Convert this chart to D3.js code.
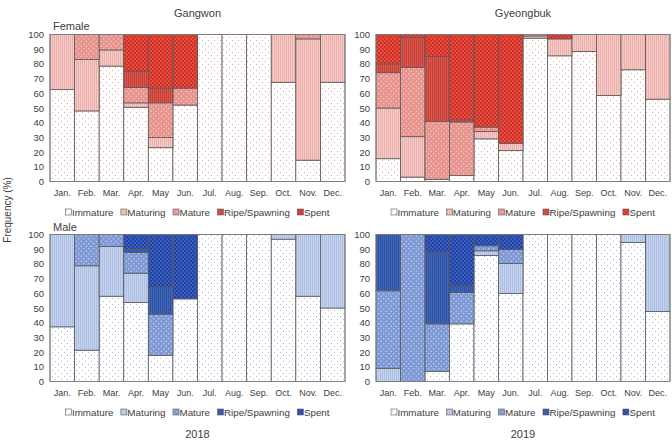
<!DOCTYPE html>
<html>
<head>
<meta charset="utf-8">
<script src="https://cdn.jsdelivr.net/npm/d3@7"></script>
<style>
  body { margin: 0; background: #fff; }
  text { font-family: "Liberation Sans", Arial, sans-serif; fill: #404040; }
</style>
</head>
<body>
<div class="chart_container"></div>
<script>
// months and maturity stages
var months = ["Jan.", "Feb.", "Mar.", "Apr.", "May", "Jun.", "Jul.", "Aug.", "Sep.", "Oct.", "Nov.", "Dec."];
var stages = ["Immature", "Maturing", "Mature", "Ripe/Spawning", "Spent"];

// % per month, one row per stage (Immature, Maturing, Mature, Ripe/Spawning, Spent)
var femaleGangwon = [
    [62.5, 48, 78.5, 50.5, 23, 52, 100, 100, 100, 67.5, 14.5, 67.5],
    [37.5, 35, 11, 3, 7, 0, 0, 0, 0, 32.5, 82.5, 32.5],
    [0, 17, 10.5, 10.5, 23.5, 11.5, 0, 0, 0, 0, 3, 0],
    [0, 0, 0, 11, 10, 0, 0, 0, 0, 0, 0, 0],
    [0, 0, 0, 25, 36.5, 36.5, 0, 0, 0, 0, 0, 0]
];
var femaleGyeongbuk = [
    [15.5, 3, 1.5, 4, 29, 21, 97.5, 85.5, 88.5, 58.5, 76, 56],
    [34.5, 27.5, 0, 0, 5, 5, 1.5, 11.5, 11.5, 41.5, 24, 44],
    [24, 47, 39.5, 36.5, 3, 0, 1, 0, 0, 0, 0, 0],
    [6, 20.5, 44, 1.5, 0, 0, 0, 0, 0, 0, 0, 0],
    [20, 2, 15, 58, 63, 74, 0, 3, 0, 0, 0, 0]
];
var maleGangwon = [
    [37.2, 21.3, 58, 53.7, 17.7, 56.2, 100, 100, 100, 96.8, 58, 50],
    [62.8, 57.4, 33.8, 20, 0, 0, 0, 0, 0, 3.2, 42, 50],
    [0, 21.3, 8.2, 14.1, 28.1, 0, 0, 0, 0, 0, 0, 0],
    [0, 0, 0, 2.2, 18.1, 0, 0, 0, 0, 0, 0, 0],
    [0, 0, 0, 10, 36.1, 43.8, 0, 0, 0, 0, 0, 0]
];
var maleGyeongbuk = [
    [0, 0, 6.8, 39.2, 85.7, 59.9, 100, 100, 100, 100, 94.6, 47.6],
    [9, 0, 0, 0, 3.2, 20.4, 0, 0, 0, 0, 5.4, 52.4],
    [52.7, 100, 32.4, 21.3, 3.4, 9.5, 0, 0, 0, 0, 0, 0],
    [38.3, 0, 48.3, 4.5, 0, 0, 0, 0, 0, 0, 0, 0],
    [0, 0, 12.5, 35, 7.7, 10.2, 0, 0, 0, 0, 0, 0]
];

var w = 672, h = 445;
var svg = d3.select('.chart_container')
            .append('svg')
            .attr('width', w)
            .attr('height', h);

//pattern colours: [background, mark] for each stage
var palette = {
    f: [["#ffffff", "#e99a94"], ["#f5cac7", "#eaaaa6"], ["#e8948e", "#f9d3cf"], ["#d9574e", "#c33a31"], ["#d42f23", "#f0847a"]],
    m: [["#ffffff", "#98a9da"], ["#c5d2ee", "#a8bae2"], ["#7f99d5", "#c9d5f1"], ["#4065b6", "#2b4fa0"], ["#1f43a8", "#6d88d2"]]
};
var defs = svg.append('defs');
Object.keys(palette).forEach(function(sex){
    palette[sex].forEach(function(c, i){
        var dotted = (i == 0 || i == 2 || i == 4);
        var size = i == 0 ? 6 : (i == 4 ? 4 : 5);
        var p = defs.append('pattern')
            .attr('id', 'pat-' + sex + '-' + i)
            .attr('patternUnits', 'userSpaceOnUse')
            .attr('width', dotted ? size : 2)
            .attr('height', dotted ? size : 2);
        p.append('rect').attr('width', size).attr('height', size).attr('fill', c[0]);
        if (dotted) {
            [[size/4, size/4], [size*3/4, size*3/4]].forEach(function(pt){
                p.append('circle').attr('cx', pt[0]).attr('cy', pt[1])
                    .attr('r', i == 0 ? 0.55 : 0.7).attr('fill', c[1]);
            });
        } else {
            p.append('rect').attr('x', 0).attr('y', 0).attr('width', 0.8).attr('height', 2).attr('fill', c[1]);
        }
    });
});

var col_x = [[50, 345], [376, 670]];
var row_y = [[181.5, 34.5], [381.5, 234.5]];

function drawPanel(data, col, row, sex){
    var x_scale = d3.scaleBand().domain(months).range(col_x[col]).padding(0);
    var y_scale = d3.scaleLinear().domain([0, 100]).range(row_y[row]);
    var g = svg.append('g');

    //y axis labels
    g.selectAll('.ytick')
        .data(y_scale.ticks(10))
        .enter().append('text')
        .attr('x', col_x[col][0] - 6)
        .attr('y', d => y_scale(d) + 3.5)
        .attr('text-anchor', 'end')
        .style('font-size', '9.5px')
        .text(d => d);

    //x axis labels
    g.selectAll('.xtick')
        .data(months)
        .enter().append('text')
        .attr('x', d => x_scale(d) + x_scale.bandwidth()/2)
        .attr('y', row_y[row][0] + 14.5)
        .attr('text-anchor', 'middle')
        .style('font-size', '9px')
        .text(d => d);

    //stacked bars
    var table = months.map(function(m, j){
        var o = {month: m};
        stages.forEach(function(s, i){ o[s] = data[i][j]; });
        return o;
    });
    var series = d3.stack().keys(stages)(table);
    series.forEach(function(ser, i){
        g.selectAll('.bar' + i)
            .data(ser.filter(d => d[1] - d[0] > 0))
            .enter().append('rect')
            .attr('x', d => x_scale(d.data.month))
            .attr('width', x_scale.bandwidth())
            .attr('y', d => y_scale(d[1]))
            .attr('height', d => y_scale(d[0]) - y_scale(d[1]))
            .attr('fill', 'url(#pat-' + sex + '-' + i + ')')
            .attr('stroke', '#5a5a5a')
            .attr('stroke-width', 0.8);
    });

    //plot frame
    g.append('rect')
        .attr('x', col_x[col][0])
        .attr('y', row_y[row][1])
        .attr('width', col_x[col][1] - col_x[col][0])
        .attr('height', row_y[row][0] - row_y[row][1])
        .attr('fill', 'none')
        .attr('stroke', '#7f7f7f')
        .attr('stroke-width', 0.8);

    //legend, centred under the plot
    var lg = g.append('g');
    var lx = 0;
    stages.forEach(function(s, i){
        lg.append('rect')
            .attr('x', lx).attr('y', -6.5)
            .attr('width', 6).attr('height', 6)
            .attr('fill', 'url(#pat-' + sex + '-' + i + ')')
            .attr('stroke', '#5a5a5a')
            .attr('stroke-width', 0.6);
        var t = lg.append('text')
            .attr('x', lx + 6.5)
            .attr('y', 0)
            .style('font-size', '9.8px')
            .text(s);
        lx += 6.5 + t.node().getComputedTextLength() + 7.5;
    });
    lx -= 7.5;
    var cx = (col_x[col][0] + col_x[col][1]) / 2;
    lg.attr('transform', 'translate(' + (cx - lx/2) + ',' + (row_y[row][0] + 34) + ')');
}

drawPanel(femaleGangwon, 0, 0, 'f');
drawPanel(femaleGyeongbuk, 1, 0, 'f');
drawPanel(maleGangwon, 0, 1, 'm');
drawPanel(maleGyeongbuk, 1, 1, 'm');

//titles and labels
var titles = [["Gangwon", 197.5, 17], ["Gyeongbuk", 523, 17], ["2018", 197.5, 438], ["2019", 523, 438]];
titles.forEach(function(t){
    svg.append('text')
        .attr('x', t[1]).attr('y', t[2])
        .attr('text-anchor', 'middle')
        .style('font-size', '11px')
        .text(t[0]);
});
svg.append('text').attr('x', 53).attr('y', 30).style('font-size', '11px').text("Female");
svg.append('text').attr('x', 53).attr('y', 231).style('font-size', '11px').text("Male");
svg.append('text')
    .attr('transform', 'translate(11,210) rotate(-90)')
    .attr('text-anchor', 'middle')
    .style('font-size', '10px')
    .text("Frequency (%)");
</script>
</body>
</html>
